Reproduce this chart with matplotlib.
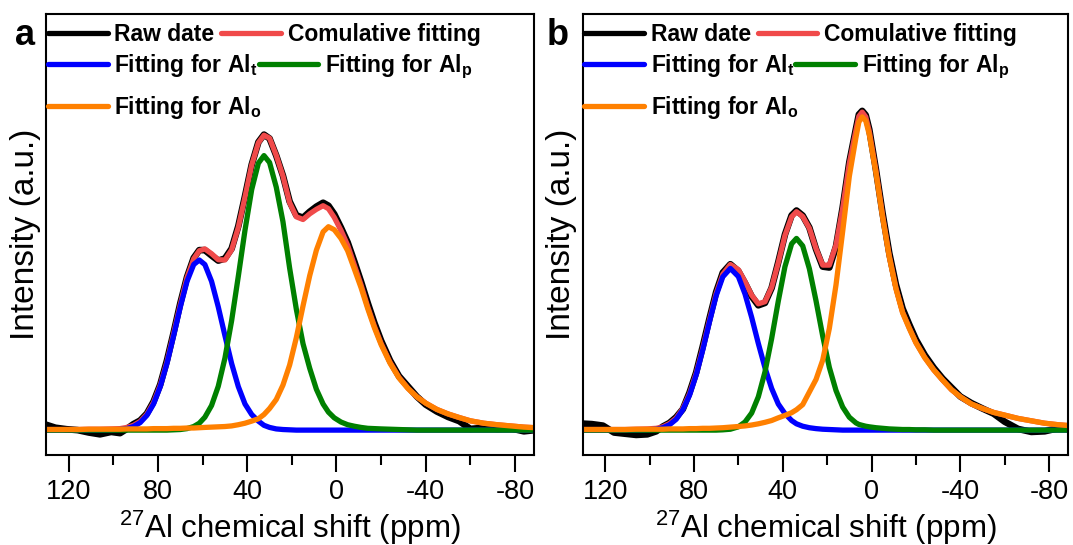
import matplotlib.pyplot as plt
from matplotlib.lines import Line2D

# chemical shift grid (ppm) and intensities
x_a = [131, 126, 121, 116, 111, 106, 101, 97, 94, 91, 88, 85, 82, 79, 76, 73, 70, 67, 64, 61.5,
       59, 56, 53, 50, 47, 44, 41, 38, 35, 32.5, 30, 27, 24, 21, 18, 15, 12, 9, 6, 3.6,
       1, -2, -5, -8, -11, -14, -17, -20, -24, -28, -32, -36, -40, -45, -50, -55, -60, -66, -72, -78,
       -84, -89]
raw_a = [0.020, 0.008, 0.003, 0.000, -0.008, -0.014, -0.006, -0.010, 0.004, 0.020, 0.032, 0.055, 0.095, 0.152, 0.232, 0.325, 0.423, 0.510, 0.574, 0.600,
         0.600, 0.582, 0.565, 0.572, 0.605, 0.680, 0.780, 0.885, 0.960, 0.985, 0.972, 0.915, 0.848, 0.762, 0.716, 0.708, 0.728, 0.745, 0.758, 0.748,
         0.720, 0.675, 0.626, 0.562, 0.495, 0.424, 0.357, 0.298, 0.232, 0.180, 0.146, 0.112, 0.085, 0.062, 0.044, 0.030, 0.004, 0.008, 0.004, 0.006,
         -0.004, 0.000]
cum_a = [0.002, 0.002, 0.002, 0.002, 0.003, 0.003, 0.004, 0.005, 0.009, 0.016, 0.029, 0.053, 0.092, 0.150, 0.227, 0.322, 0.419, 0.508, 0.571, 0.598,
         0.604, 0.588, 0.568, 0.567, 0.601, 0.676, 0.777, 0.884, 0.958, 0.983, 0.973, 0.916, 0.847, 0.758, 0.711, 0.702, 0.721, 0.736, 0.748, 0.738,
         0.709, 0.666, 0.616, 0.550, 0.484, 0.411, 0.346, 0.289, 0.226, 0.176, 0.140, 0.111, 0.090, 0.069, 0.054, 0.042, 0.031, 0.023, 0.018, 0.014,
         0.010, 0.008]
alt_a = [0, 0, 0, 0, 0, 0, 0.001, 0.002, 0.005, 0.012, 0.025, 0.049, 0.087, 0.145, 0.222, 0.315, 0.411, 0.496, 0.552, 0.567,
         0.552, 0.496, 0.411, 0.315, 0.222, 0.145, 0.087, 0.052, 0.030, 0.016, 0.009, 0.004, 0.002, 0.001, 0, 0, 0, 0, 0, 0,
         0, 0, 0, 0, 0, 0, 0, 0, 0, 0, 0, 0, 0, 0, 0, 0, 0, 0, 0, 0,
         0, 0]
alp_a = [0, 0, 0, 0, 0, 0, 0, 0, 0, 0, 0, 0, 0, 0, 0, 0.001, 0.002, 0.005, 0.012, 0.023,
         0.043, 0.082, 0.146, 0.240, 0.365, 0.513, 0.667, 0.802, 0.890, 0.915, 0.892, 0.810, 0.695, 0.540, 0.403, 0.288, 0.206, 0.136, 0.087, 0.060,
         0.041, 0.027, 0.018, 0.013, 0.009, 0.006, 0.005, 0.004, 0.003, 0.002, 0.001, 0, 0, 0, 0, 0, 0, 0, 0, 0,
         0, 0]
alo_a = [0.002, 0.002, 0.002, 0.002, 0.003, 0.003, 0.003, 0.003, 0.004, 0.004, 0.004, 0.004, 0.005, 0.005, 0.005, 0.006, 0.006, 0.007, 0.007, 0.008,
         0.009, 0.010, 0.011, 0.012, 0.014, 0.018, 0.023, 0.030, 0.038, 0.052, 0.072, 0.102, 0.150, 0.217, 0.308, 0.414, 0.515, 0.600, 0.661, 0.678,
         0.668, 0.639, 0.598, 0.537, 0.475, 0.405, 0.341, 0.285, 0.223, 0.174, 0.139, 0.111, 0.090, 0.069, 0.054, 0.042, 0.031, 0.023, 0.018, 0.014,
         0.010, 0.008]

x_b = [131, 126, 121, 116, 111, 106, 101, 97, 94, 91, 88, 85, 82, 79, 76, 73, 70, 67, 63.6, 60,
       57, 54, 51, 48, 45, 42, 39, 36, 33.8, 31, 28, 25, 22, 19, 16, 13, 10, 7, 5.7, 4.2,
       2.6, 1, -2, -5, -8, -11, -14, -17, -20, -24, -28, -32, -36, -40, -45, -50, -55, -60, -66, -72,
       -78, -84, -89]
raw_b = [0.022, 0.020, 0.015, -0.008, -0.012, -0.016, -0.014, -0.004, 0.012, 0.024, 0.043, 0.070, 0.125, 0.192, 0.280, 0.372, 0.460, 0.525, 0.553, 0.530,
         0.490, 0.446, 0.416, 0.424, 0.474, 0.560, 0.652, 0.716, 0.732, 0.715, 0.675, 0.603, 0.545, 0.542, 0.612, 0.742, 0.893, 1.005, 1.052, 1.064,
         1.050, 1.002, 0.868, 0.722, 0.590, 0.485, 0.405, 0.352, 0.302, 0.250, 0.208, 0.172, 0.142, 0.112, 0.090, 0.072, 0.055, 0.028, 0.004, -0.006,
         -0.004, 0.006, 0.008]
cum_b = [0.002, 0.002, 0.002, 0.002, 0.002, 0.003, 0.004, 0.006, 0.011, 0.022, 0.040, 0.072, 0.121, 0.189, 0.274, 0.367, 0.455, 0.520, 0.552, 0.535,
         0.495, 0.450, 0.421, 0.428, 0.476, 0.558, 0.649, 0.711, 0.728, 0.712, 0.673, 0.605, 0.550, 0.550, 0.617, 0.739, 0.889, 1.000, 1.046, 1.060,
         1.044, 0.996, 0.865, 0.715, 0.581, 0.474, 0.393, 0.341, 0.292, 0.242, 0.201, 0.167, 0.135, 0.111, 0.087, 0.072, 0.059, 0.050, 0.039, 0.031,
         0.023, 0.018, 0.015]
alt_b = [0, 0, 0, 0, 0, 0, 0.001, 0.003, 0.008, 0.018, 0.036, 0.068, 0.116, 0.184, 0.268, 0.361, 0.448, 0.511, 0.539, 0.512,
         0.454, 0.376, 0.289, 0.208, 0.139, 0.087, 0.055, 0.032, 0.021, 0.013, 0.008, 0.005, 0.003, 0.002, 0.001, 0, 0, 0, 0, 0,
         0, 0, 0, 0, 0, 0, 0, 0, 0, 0, 0, 0, 0, 0, 0, 0, 0, 0, 0, 0,
         0, 0, 0]
alp_b = [0, 0, 0, 0, 0, 0, 0, 0, 0, 0, 0, 0, 0, 0, 0, 0, 0, 0.001, 0.003, 0.011,
         0.027, 0.057, 0.111, 0.194, 0.305, 0.430, 0.545, 0.621, 0.639, 0.614, 0.538, 0.431, 0.314, 0.209, 0.132, 0.077, 0.043, 0.024, 0.019, 0.016,
         0.013, 0.011, 0.008, 0.006, 0.004, 0.003, 0.002, 0.002, 0.001, 0.001, 0, 0, 0, 0, 0, 0, 0, 0, 0, 0,
         0, 0, 0]
alo_b = [0.002, 0.002, 0.002, 0.002, 0.002, 0.003, 0.003, 0.003, 0.003, 0.004, 0.004, 0.004, 0.005, 0.005, 0.006, 0.006, 0.007, 0.008, 0.010, 0.012,
         0.014, 0.017, 0.021, 0.026, 0.032, 0.041, 0.049, 0.058, 0.068, 0.085, 0.127, 0.169, 0.233, 0.339, 0.484, 0.662, 0.846, 0.976, 1.027, 1.044,
         1.031, 0.985, 0.857, 0.709, 0.577, 0.471, 0.391, 0.339, 0.291, 0.241, 0.201, 0.167, 0.135, 0.111, 0.087, 0.072, 0.059, 0.050, 0.039, 0.031,
         0.023, 0.018, 0.015]

labels = ['Raw date', 'Comulative fitting', r'Fitting for Al$_t$', r'Fitting for Al$_p$', r'Fitting for Al$_o$']
colors = ['black', '#F04A4A', '#0000FF', '#008000', '#FF8000']
major_ticks = [120, 80, 40, 0, -40, -80]
minor_ticks = [100, 60, 20, -20, -60]

plt.rcParams['font.family'] = ['Liberation Sans', 'DejaVu Sans']
plt.rcParams['mathtext.fontset'] = 'custom'
plt.rcParams['mathtext.rm'] = 'Liberation Sans'
plt.rcParams['mathtext.default'] = 'regular'
plt.rcParams['axes.unicode_minus'] = False
legfont = dict(family='Liberation Sans', weight='bold', size=16.5)

fig = plt.figure(figsize=(10.73, 5.45), dpi=100)
ax_a = fig.add_axes([0.0433, 0.1651, 0.4543, 0.8092])
ax_b = fig.add_axes([0.5433, 0.1651, 0.4520, 0.8092])


def panel(ax, x, series, letter, fx):
    for i, (y, c) in enumerate(zip(series, colors)):
        lw = 4.8 if i == 0 else 3.8
        ax.plot(x, y, color=c, lw=lw, solid_capstyle='round', solid_joinstyle='round')

    ax.set_xlim(130, -88.5)
    ax.set_ylim(-0.083, 1.387)
    ax.set_xticks(major_ticks)
    ax.set_xticks(minor_ticks, minor=True)
    ax.set_yticks([])
    ax.tick_params(axis='x', which='major', length=12, width=1.5, direction='out', pad=5, labelsize=19.5)
    ax.tick_params(axis='x', which='minor', length=7.5, width=1.5, direction='out')
    for s in ax.spines.values():
        s.set_linewidth(1.5)

    ax.set_xlabel(r'$^{27}$Al chemical shift (ppm)', fontsize=22.5, labelpad=3)
    ax.set_ylabel('Intensity (a.u.)', fontsize=24, labelpad=4)

    # Origin style legend: three rows of flowing entries
    rows = [([0, 1], 0.953, 0.3), ([2, 3], 0.881, 0.05), ([4], 0.789, 0.3)]
    for idx, yy, cs in rows:
        hs = [Line2D([], [], color=colors[k], lw=3.8, solid_capstyle='round') for k in idx]
        leg = ax.legend(hs, [labels[k] for k in idx], loc='center left', bbox_to_anchor=(0.003, yy),
                        ncol=len(idx), frameon=False, prop=legfont, handlelength=2.6,
                        handletextpad=0.3, columnspacing=cs, borderpad=0, borderaxespad=0)
        ax.add_artist(leg)
    ax.legend_ = None

    fig.text(fx, 1 - 45 / 545, letter, fontsize=26, weight='bold', va='baseline')


panel(ax_a, x_a, [raw_a, cum_a, alt_a, alp_a, alo_a], 'a', 15 / 1073)
panel(ax_b, x_b, [raw_b, cum_b, alt_b, alp_b, alo_b], 'b', 547 / 1073)

fig.savefig('out.png', dpi=100)
